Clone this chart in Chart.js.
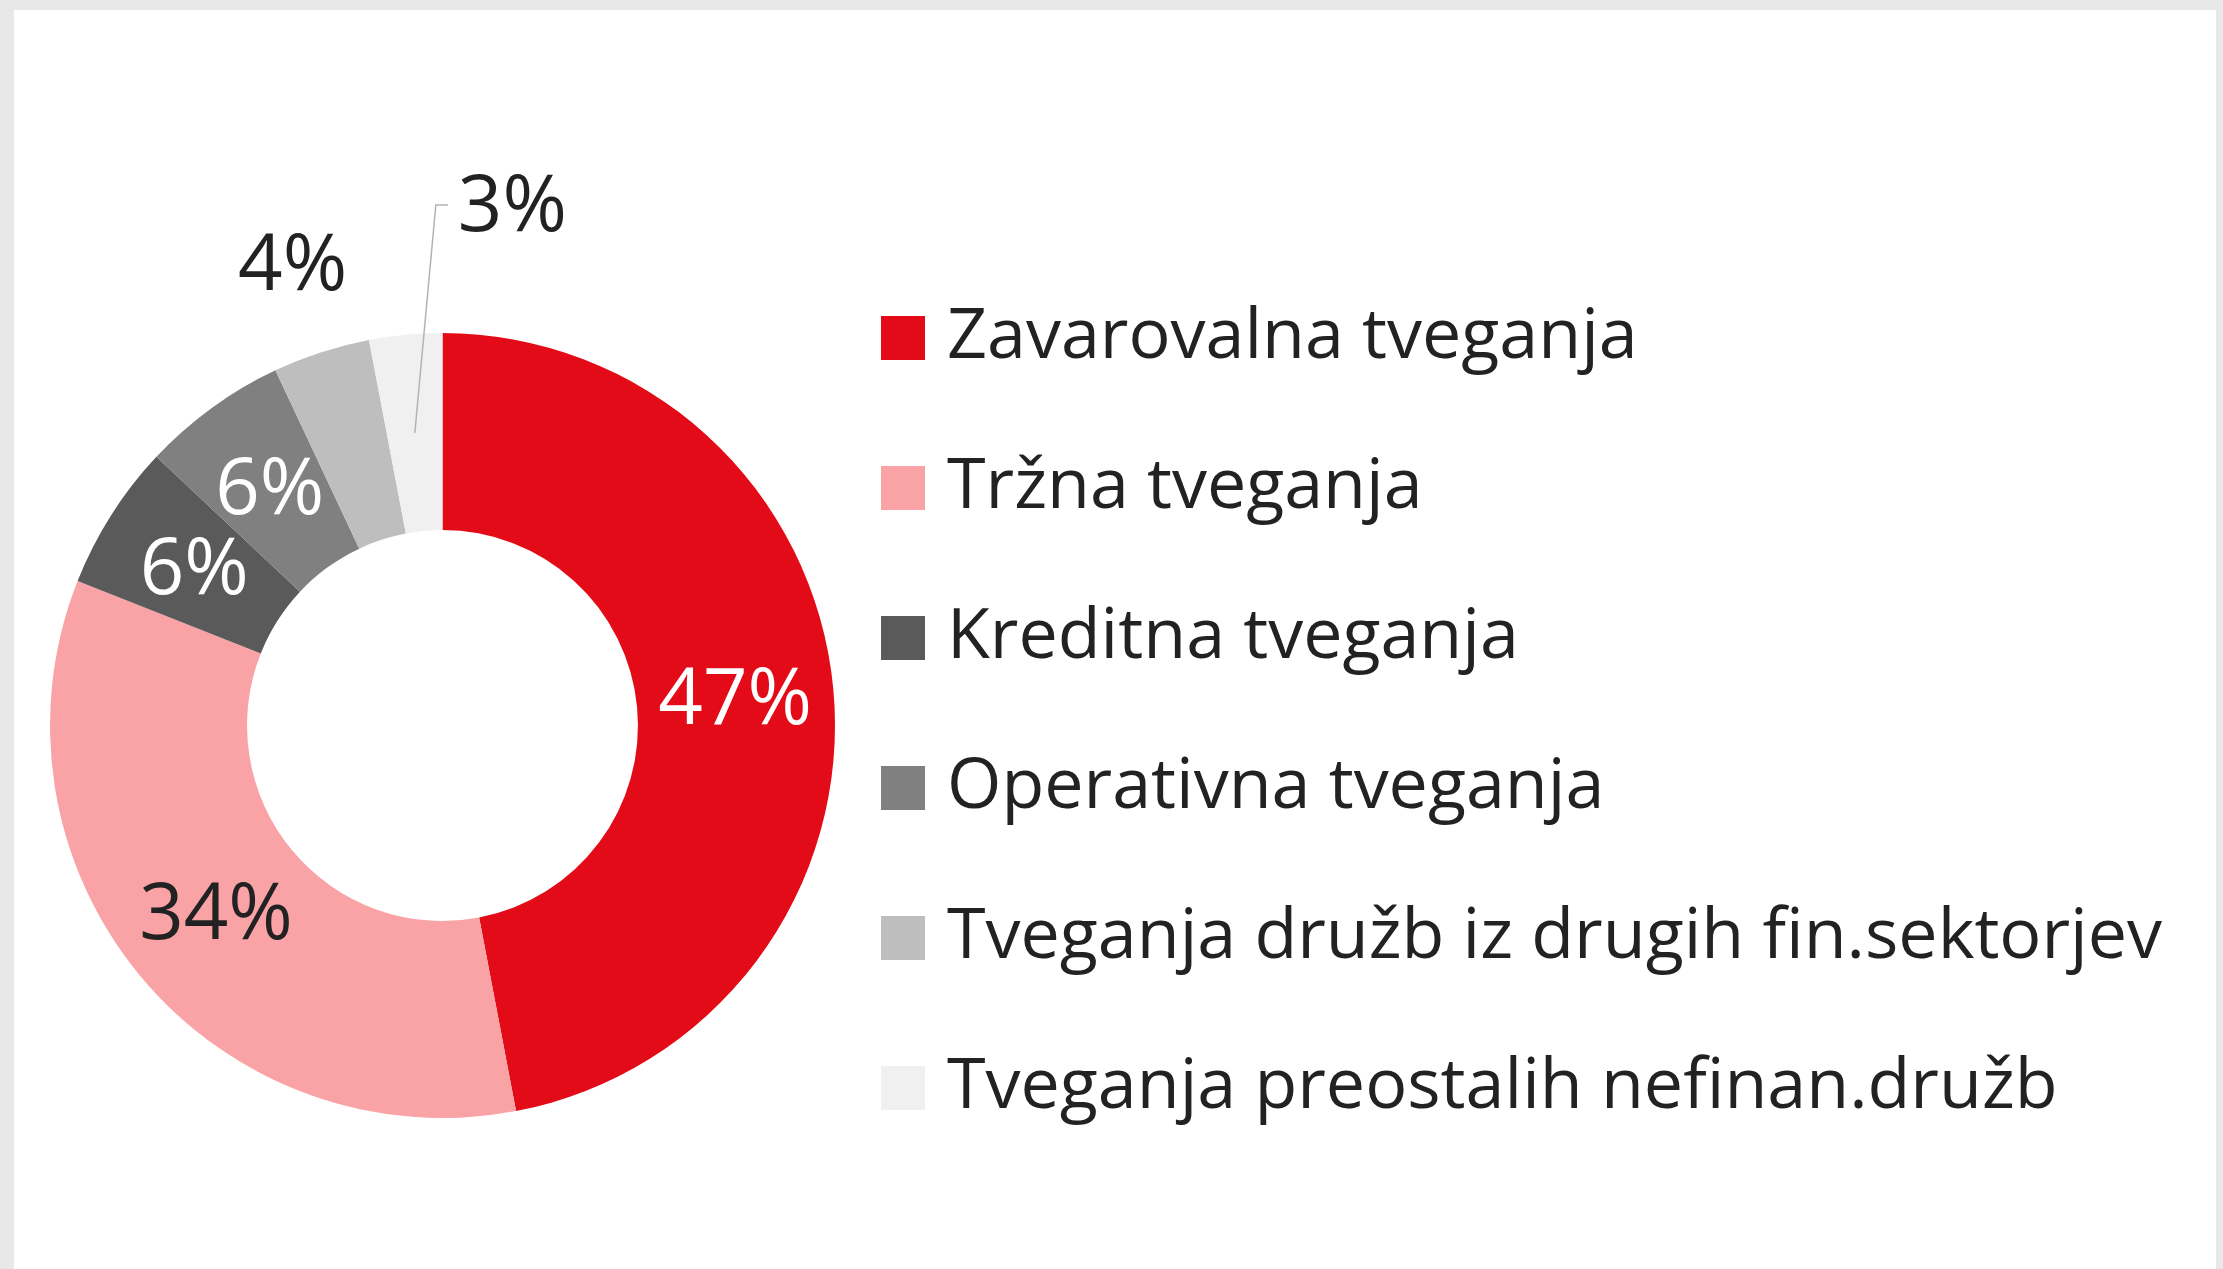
<!DOCTYPE html>
<html>
<head>
<meta charset="utf-8">
<script src="https://cdn.jsdelivr.net/npm/chart.js@4.4.1/dist/chart.umd.min.js"></script>
<style>
	html, body { margin: 0; padding: 0; background: #e8e8e8; overflow: hidden; }
	#sheet { position: absolute; left: 14px; top: 10px; right: 7px; bottom: 0; background: #ffffff; }
	#chart { position: absolute; left: 0; top: 0; }
</style>
</head>
<body>
<div id="sheet"></div>
<canvas id="chart" width="2223" height="1269"></canvas>
<script>
// data
const categories = [
	"Zavarovalna tveganja",
	"Tržna tveganja",
	"Kreditna tveganja",
	"Operativna tveganja",
	"Tveganja družb iz drugih fin.sektorjev",
	"Tveganja preostalih nefinan.družb"
];
const shares = [47, 34, 6, 6, 4, 3];

// styles
const sliceColors = ["#e30b18", "#faa3a7", "#5a5a5a", "#808080", "#bebebe", "#f0f0f0"];
const labelColors = ["#ffffff", "#222222", "#ffffff", "#ffffff", "#222222", "#222222"];
const labelPlace = ["in", "in", "in", "in", "out", "leader"];

// percentage labels drawn on top of the arcs
const pctLabels = {
	id: 'pctLabels',
	afterDatasetsDraw(chart) {
		const ctx = chart.ctx;
		const meta = chart.getDatasetMeta(0);
		const total = shares.reduce((a, b) => a + b, 0);
		const dy = 4; // optical nudge for the digits
		ctx.save();
		ctx.font = '78px "Open Sans"';
		ctx.textBaseline = 'middle';
		meta.data.forEach((arc, i) => {
			const text = Math.round(shares[i] / total * 100) + '%';
			const p = arc.getProps(['x', 'y', 'startAngle', 'endAngle', 'outerRadius'], true);
			const mid = (p.startAngle + p.endAngle) / 2;
			const c = arc.tooltipPosition(true);
			ctx.fillStyle = labelColors[i];
			if (labelPlace[i] === 'in') {
				ctx.textAlign = 'center';
				ctx.fillText(text, c.x, c.y + dy);
			} else if (labelPlace[i] === 'out') {
				const r = p.outerRadius * 1.236;
				ctx.textAlign = 'center';
				ctx.fillText(text, p.x + Math.cos(mid) * r, p.y + Math.sin(mid) * r + dy);
			} else {
				// leader line for the thin slice
				const topY = p.y - p.outerRadius * 1.326;
				const bendX = c.x + 21;
				ctx.strokeStyle = '#b3b3b3';
				ctx.lineWidth = 1.5;
				ctx.beginPath();
				ctx.moveTo(c.x, c.y);
				ctx.lineTo(bendX, topY);
				ctx.lineTo(bendX + 12, topY);
				ctx.stroke();
				ctx.textAlign = 'left';
				ctx.fillText(text, bendX + 22, topY + dy);
			}
		});
		ctx.restore();
	}
};

// legend on the right, items come from the doughnut's own generateLabels
const sideLegend = {
	id: 'sideLegend',
	afterDraw(chart) {
		const ctx = chart.ctx;
		const items = chart.options.plugins.legend.labels.generateLabels(chart);
		const boxX = 881, boxTop = 316, box = 44, step = 150, textX = 947;
		ctx.save();
		ctx.font = '70px "Open Sans"';
		ctx.textBaseline = 'alphabetic';
		ctx.textAlign = 'left';
		items.forEach((item, i) => {
			const y = boxTop + i * step;
			ctx.fillStyle = item.fillStyle;
			ctx.fillRect(boxX, y, box, box);
			ctx.fillStyle = '#222222';
			ctx.fillText(item.text, textX, y + 42);
		});
		ctx.restore();
	}
};

new Chart(document.getElementById("chart"), {
	type: 'doughnut',
	data: {
		labels: categories,
		datasets: [{
			data: shares,
			backgroundColor: sliceColors,
			borderWidth: 0,
			clip: false
		}]
	},
	options: {
		responsive: false,
		animation: false,
		events: [],
		radius: 392.5,
		cutout: '49.8%',
		layout: {
			padding: { left: 89, right: 1427, top: 220, bottom: 38 }
		},
		plugins: {
			tooltip: { enabled: false },
			legend: { display: false }
		}
	},
	plugins: [pctLabels, sideLegend]
});
</script>
</body>
</html>
